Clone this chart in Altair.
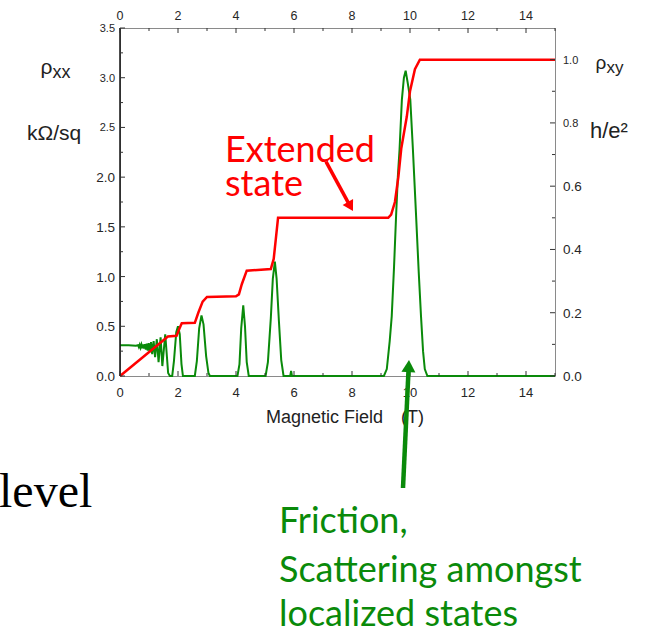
import altair as alt
import pandas as pd

# Longitudinal resistivity rho_xx (kOhm/sq) against magnetic field B (T)
b_xx = [0.0, 0.3, 0.55, 0.62, 0.65, 0.68, 0.71, 0.74, 0.77, 0.80, 0.83, 0.86, 0.89,
        0.92, 0.955, 0.99, 1.03, 1.07, 1.11, 1.16, 1.21, 1.27, 1.33, 1.40, 1.46,
        1.56, 1.66, 1.72, 1.80, 1.86, 1.94, 2.0, 2.06, 2.12, 2.17, 2.58, 2.65,
        2.73, 2.81, 2.88, 2.97, 3.05, 3.1, 4.05, 4.12, 4.18, 4.25, 4.31, 4.37,
        4.44, 5.02, 5.1, 5.2, 5.27, 5.34, 5.4, 5.48, 5.56, 5.64, 5.87, 5.9, 5.93,
        9.1, 9.2, 9.3, 9.37, 9.45, 9.52, 9.58, 9.64, 9.72, 9.79, 9.85, 9.92,
        10.01, 10.1, 10.21, 10.3, 10.38, 10.45, 10.51, 10.6, 15.0]
rho_xx = [0.31, 0.31, 0.305, 0.31, 0.29, 0.315, 0.285, 0.315, 0.28, 0.318, 0.275,
          0.32, 0.265, 0.325, 0.255, 0.33, 0.24, 0.34, 0.22, 0.35, 0.19, 0.37,
          0.14, 0.39, 0.10, 0.42, 0.03, 0.0, 0.0, 0.15, 0.44, 0.50, 0.42, 0.12,
          0.0, 0.0, 0.15, 0.48, 0.61, 0.52, 0.2, 0.03, 0.0, 0.0, 0.12, 0.48, 0.71,
          0.5, 0.14, 0.0, 0.0, 0.14, 0.58, 0.98, 1.15, 0.98, 0.55, 0.16, 0.0, 0.0,
          0.05, 0.0, 0.0, 0.07, 0.35, 0.6, 1.1, 1.61, 2.0, 2.28, 2.78, 3.0, 3.07,
          2.95, 2.78, 2.28, 1.61, 1.05, 0.6, 0.25, 0.07, 0.0, 0.0]

# Hall resistivity rho_xy (h/e^2) against magnetic field B (T)
b_xy = [0.0, 1.55, 1.65, 1.95, 2.05, 2.13, 2.58, 2.7, 2.85, 3.0, 4.0, 4.1, 4.2,
        4.37, 5.2, 5.3, 5.37, 5.45, 9.25, 9.35, 9.48, 9.6, 9.7, 9.89, 10.0,
        10.17, 10.34, 15.0]
rho_xy = [0.0, 0.117, 0.125, 0.127, 0.15, 0.167, 0.168, 0.2, 0.235, 0.25, 0.252,
          0.258, 0.29, 0.333, 0.338, 0.37, 0.43, 0.5, 0.5, 0.51, 0.55, 0.63, 0.72,
          0.82, 0.9, 0.97, 1.0, 1.0]

# Axis tick positions (major ones are labelled)
x_major = [0, 2, 4, 6, 8, 10, 12, 14]
x_minor = [1, 3, 5, 7, 9, 11, 13, 15]
yl_major = [0.0, 0.5, 1.0, 1.5, 2.0, 2.5, 3.0, 3.5]
yl_minor = [0.25, 0.75, 1.25, 1.75, 2.25, 2.75, 3.25]
yr_major = [0.0, 0.2, 0.4, 0.6, 0.8, 1.0]
yr_minor = [0.1, 0.3, 0.5, 0.7, 0.9]

W, H = 435, 348
RED = "#ff0000"
GREEN = "#0a8a0a"
TXT = "#222222"
LAB = "#262626"
TICK = "#333333"
FRAME = "#8a8a8a"
SANS = "Liberation Sans"
CAL = "Lato"

xs = alt.Scale(domain=[0, 15], nice=False, zero=False)
yls = alt.Scale(domain=[0, 3.5], nice=False, zero=False)
yrs = alt.Scale(domain=[0, 1.1], nice=False, zero=False)

xx_df = pd.DataFrame({"B": b_xx, "rxx": rho_xx})
xy_df = pd.DataFrame({"B": b_xy, "rxy": rho_xy})

green = alt.Chart(xx_df).mark_line(color=GREEN, strokeWidth=2).encode(
    x=alt.X("B:Q", scale=xs, axis=None),
    y=alt.Y("rxx:Q", scale=yls, axis=None),
)
red = alt.Chart(xy_df).mark_line(color=RED, strokeWidth=2.5).encode(
    x=alt.X("B:Q", scale=xs, axis=None),
    y=alt.Y("rxy:Q", scale=yrs, axis=None),
)


def x_ticks(vals, length, top):
    y0 = 0 if top else H
    y1 = length if top else H - length
    return alt.Chart(pd.DataFrame({"B": vals})).mark_rule(
        color=TICK, strokeWidth=1).encode(
        x=alt.X("B:Q", scale=xs, axis=None), y=alt.value(y0), y2=alt.value(y1))


def y_ticks(vals, scale, length, left):
    x0 = 0 if left else W
    x1 = length if left else W - length
    return alt.Chart(pd.DataFrame({"v": vals})).mark_rule(
        color=TICK, strokeWidth=1).encode(
        y=alt.Y("v:Q", scale=scale, axis=None), x=alt.value(x0), x2=alt.value(x1))


def x_labels(vals, ypos, size):
    return alt.Chart(pd.DataFrame({"B": vals})).mark_text(
        font=SANS, fontSize=size, color=LAB, align="center",
        baseline="alphabetic").encode(
        x=alt.X("B:Q", scale=xs, axis=None), y=alt.value(ypos),
        text=alt.Text("B:Q", format="d"))


def y_labels(vals, scale, xpos, align, small_from):
    return alt.Chart(pd.DataFrame({"v": vals})).mark_text(
        font=SANS, color=LAB, align=align, baseline="middle", dy=1).encode(
        y=alt.Y("v:Q", scale=scale, axis=None), x=alt.value(xpos),
        text=alt.Text("v:Q", format=".1f"),
        size=alt.condition(f"datum.v >= {small_from}", alt.value(11), alt.value(13.5)))


one = pd.DataFrame({"k": [0]})


def label(text, x, y, size, color=TXT, font=SANS):
    return alt.Chart(one).mark_text(
        text=text, font=font, fontSize=size, color=color, align="left",
        baseline="alphabetic").encode(x=alt.value(x), y=alt.value(y))


def arrow(x0, y0, xc, yc, angle, width, head, color):
    line = alt.Chart(one).mark_rule(color=color, strokeWidth=width).encode(
        x=alt.value(x0), y=alt.value(y0), x2=alt.value(xc), y2=alt.value(yc))
    tip = alt.Chart(one).mark_point(
        shape="triangle-up", size=head, filled=True, opacity=1, color=color,
        angle=angle).encode(x=alt.value(xc), y=alt.value(yc))
    return [line, tip]


# black left edge of the frame
left_edge = alt.Chart(one).mark_rule(color="#111111", strokeWidth=1.5).encode(
    x=alt.value(0), y=alt.value(0), y2=alt.value(H))

layers = [
    green, red, left_edge,
    x_ticks(x_major, 5, True), x_ticks(x_minor, 3, True),
    x_ticks(x_major, 5, False), x_ticks(x_minor, 3, False),
    y_ticks(yl_major, yls, 5, True), y_ticks(yl_minor, yls, 3, True),
    y_ticks(yr_major, yrs, 5, False), y_ticks(yr_minor, yrs, 3, False),
    x_labels(x_major, -8, 12.5),
    x_labels(x_major, H + 20.5, 13),
    y_labels(yl_major, yls, -5, "right", 2.25),
    y_labels(yr_major, yrs, W + 8, "left", 0.7),
    label("Magnetic Field", 146, 395, 18),
    label("(T)", 281, 395, 18),
    label("\u03c1", -79.5, 46, 21),
    label("xx", -67.5, 50, 18),
    label("k\u03a9/sq", -93, 112, 21),
    label("\u03c1", 475.5, 41, 19),
    label("xy", 486.5, 45, 17),
    label("h/e\u00b2", 470, 110, 22),
    label("Extended", 105, 134, 36, RED, CAL),
    label("state", 105, 168, 36, RED, CAL),
    label("Friction,", 159, 505, 36, GREEN, CAL),
    label("Scattering amongst", 159, 554, 36, GREEN, CAL),
    label("localized states", 159, 598, 36, GREEN, CAL),
    label("level", -121, 479, 48, "#000000", "Liberation Serif"),
]
layers += arrow(206, 133.7, 230.4, 178.6, 150.5, 3.5, 144, RED)
layers += arrow(283, 460, 288.7, 338.1, 2.7, 4.5, 196, GREEN)

chart = alt.layer(*layers).resolve_scale(
    y="independent"
).properties(
    width=W, height=H,
    padding={"left": 120, "top": 28, "right": 93, "bottom": 258},
    autosize=alt.AutoSizeParams(type="none"),
    background="white",
).configure_view(
    stroke=FRAME, strokeWidth=1
)

chart.save("out.html", embed_options={"renderer": "svg", "actions": False})
